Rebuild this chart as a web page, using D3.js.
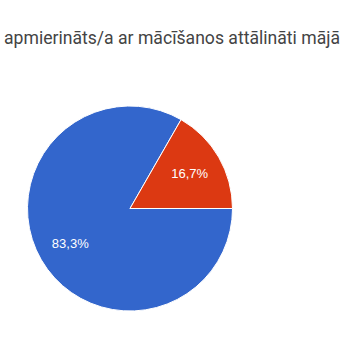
<!DOCTYPE html>
<html>
<head>
<meta charset="utf-8">
<script src="https://cdn.jsdelivr.net/npm/d3@7"></script>
<style>
  body { margin: 0; background: #fff; overflow: hidden; }
  svg { display: block; }
</style>
</head>
<body>
<div id="chart"></div>
<script>
const titleText = "apmierināts/a ar mācīšanos attālināti mājā";
const labels = ["Jā", "Nē"];
const values = [83.3, 16.7];
const sliceColors = ["#3366cc", "#dc3912"];

const width = 343, height = 343;
const cx = 130, cy = 208.5, radius = 102.5;

const svg = d3.select("#chart")
  .append("svg")
  .attr("width", width)
  .attr("height", height);

// title, visible part only (the screenshot crops it)
svg.append("text")
  .attr("x", 4)
  .attr("y", 44)
  .attr("fill", "#444")
  .style("font-family", "Roboto, sans-serif")
  .style("font-size", "17.6px")
  .text(titleText);

const color = d3.scaleOrdinal().domain(labels).range(sliceColors);

// slices start at 3 o'clock, go clockwise
const pie = d3.pie()
  .sort(null)
  .value((d, i) => values[i])
  .startAngle(Math.PI / 2)
  .endAngle(Math.PI / 2 + 2 * Math.PI);

const arcs = pie(labels);
const arc = d3.arc().innerRadius(0).outerRadius(radius);
const labelArc = d3.arc().innerRadius(69).outerRadius(69);

const g = svg.append("g")
  .attr("transform", `translate(${cx}, ${cy})`);

g.selectAll("path")
  .data(arcs)
  .enter()
  .append("path")
  .attr("d", arc)
  .attr("fill", (d) => color(d.data))
  .attr("stroke", "#fff")
  .attr("stroke-width", 1);

const fmt = (v) => v.toFixed(1).replace(".", ",") + "%";

g.selectAll("text")
  .data(arcs)
  .enter()
  .append("text")
  .attr("transform", (d) => `translate(${labelArc.centroid(d)})`)
  .attr("dy", "0.35em")
  .attr("text-anchor", "middle")
  .attr("fill", "#fff")
  .style("font-family", "Arial, 'Liberation Sans', sans-serif")
  .style("font-size", "13px")
  .text((d, i) => fmt(values[i]));
</script>
</body>
</html>
